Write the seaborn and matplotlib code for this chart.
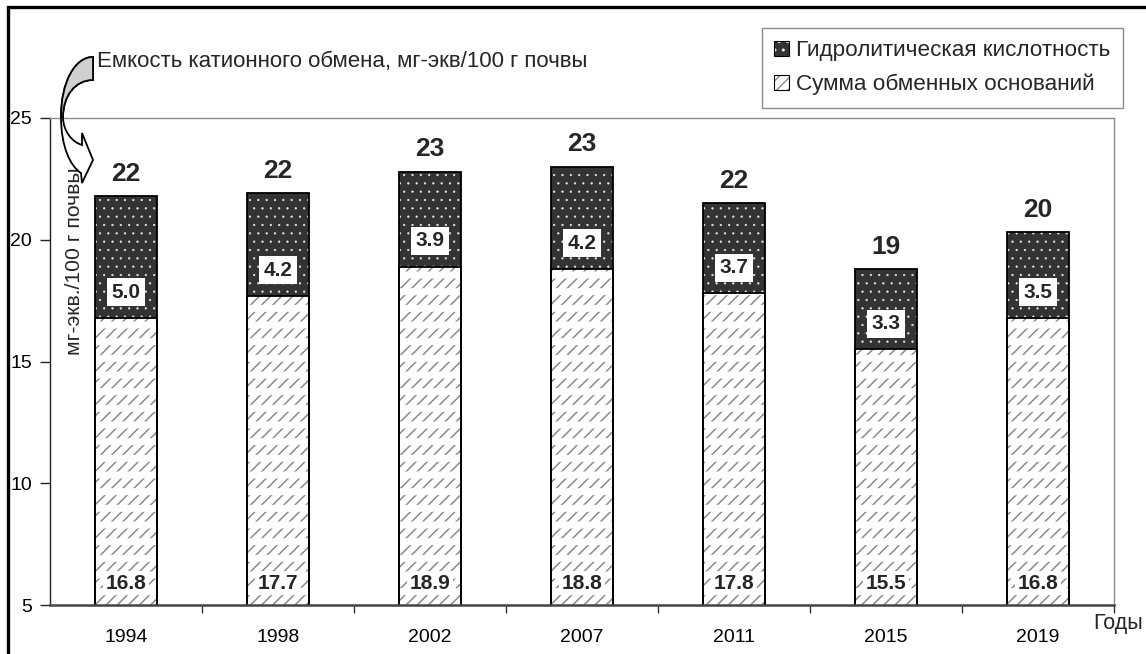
import matplotlib
matplotlib.use("Agg")
import matplotlib.pyplot as plt
import seaborn as sns
import pandas as pd
import numpy as np
from matplotlib.patches import Rectangle, Patch, PathPatch
from matplotlib.path import Path
from matplotlib.colors import to_rgba

# Soil exchange properties by survey year
years = ["1994", "1998", "2002", "2007", "2011", "2015", "2019"]
base_sum = [16.8, 17.7, 18.9, 18.8, 17.8, 15.5, 16.8]      # сумма обменных оснований
hydro_acid = [5.0, 4.2, 3.9, 4.2, 3.7, 3.3, 3.5]          # гидролитическая кислотность
y_ticks = [5, 10, 15, 20, 25]

legend_labels = ["Гидролитическая кислотность", "Сумма обменных оснований"]
ylabel = "мг-экв./100 г почвы"
xlabel = "Годы"
cec_note = "Емкость катионного обмена, мг-экв/100 г почвы"

sns.set_theme(style="white")
plt.rcParams["font.family"] = ["Liberation Sans", "DejaVu Sans"]

df = pd.DataFrame({"year": years, "base": base_sum, "acid": hydro_acid})
df["cec"] = df["base"] + df["acid"]

W, H = 1146, 654
fig = plt.figure(figsize=(W / 100, H / 100), dpi=100)
fig.patch.set_facecolor("white")
ax = fig.add_axes([50 / W, 49 / H, 1064 / W, 487 / H])

DARK = "#333333"
BAR_W = 0.41


def set_hatch_color(p, c):
    if hasattr(p, "set_hatchcolor"):
        p.set_hatchcolor(c)
    else:
        p._hatch_color = to_rgba(c)


def set_hatch_lw(p, lw):
    if hasattr(p, "set_hatch_linewidth"):
        p.set_hatch_linewidth(lw)
    else:
        p._hatch_linewidth = lw


# total (CEC) bars first, base bars drawn over their lower part
sns.barplot(data=df, x="year", y="cec", color=DARK, width=BAR_W, saturation=1,
            errorbar=None, ax=ax, edgecolor="black", linewidth=0)
n = len(ax.patches)
sns.barplot(data=df, x="year", y="base", color="white", width=BAR_W, saturation=1,
            errorbar=None, ax=ax, edgecolor="black", linewidth=0)
acid_bars = ax.patches[:n]
base_bars = ax.patches[n:]

for p in acid_bars:
    p.set_hatch("..")
    set_hatch_color(p, "#e8e8e8")
    set_hatch_lw(p, 0.4)

for p in base_bars:
    p.set_hatch("///")
    set_hatch_color(p, "#8a8a8a")
    set_hatch_lw(p, 1.1)
    # white horizontal bands cut the diagonals into short dashes
    band = Rectangle((p.get_x(), p.get_y()), p.get_width(), p.get_height(),
                     fill=False, linewidth=0, hatch="-", zorder=p.get_zorder() + 0.1)
    ax.add_patch(band)
    set_hatch_color(band, "white")
    set_hatch_lw(band, 5.0)

# black outlines on top of the patterns
for p in list(acid_bars) + list(base_bars):
    ax.add_patch(Rectangle((p.get_x(), p.get_y()), p.get_width(), p.get_height(),
                           fill=False, edgecolor="black", linewidth=1.3,
                           zorder=p.get_zorder() + 0.2))

ax.set_ylim(5, 25)
ax.set_xlim(-0.5, len(years) - 0.5)
ax.set_yticks(y_ticks)
ax.set_xlabel("")
ax.set_ylabel("")

ax.tick_params(axis="y", which="major", left=True, length=7, width=1, color="#222222",
               labelsize=14, pad=6, labelcolor="black")
ax.tick_params(axis="x", which="major", bottom=False, length=0, labelsize=14, pad=17,
               labelcolor="black")
ax.set_xticks(np.arange(len(years)) + 0.5, minor=True)
ax.tick_params(axis="x", which="minor", bottom=True, length=6, width=1, color="#333333")

for side in ["top", "right"]:
    ax.spines[side].set_color("#8c8c8c")
    ax.spines[side].set_linewidth(1.0)
ax.spines["left"].set_color("#222222")
ax.spines["left"].set_linewidth(1.0)
ax.spines["bottom"].set_color("#444444")
ax.spines["bottom"].set_linewidth(1.8)

# value labels
acid_box = dict(boxstyle="square,pad=0.22", facecolor="white", edgecolor="none")
base_box = dict(boxstyle="square,pad=0.12", facecolor="white", edgecolor="none")
for i, (b, a, c) in enumerate(zip(df["base"], df["acid"], df["cec"])):
    ax.text(i, b + 1.05, f"{a:.1f}", ha="center", va="center", fontsize=15,
            fontweight="bold", bbox=acid_box, zorder=10)
    ax.text(i, 5.9, f"{b:.1f}", ha="center", va="center", fontsize=15,
            fontweight="bold", bbox=base_box, zorder=10)
    total = int(np.floor(c + 0.5 + 1e-9))
    ax.text(i, c + 0.42, f"{total}", ha="center", va="bottom", fontsize=19,
            fontweight="bold", zorder=10)

ax.text(25 / 1064, 0.705, ylabel, transform=ax.transAxes, rotation=90,
        ha="center", va="center", fontsize=15.2, zorder=10)

fig.text(1093 / W, 1 - 623 / H, xlabel, ha="left", va="center", fontsize=15.5)

fig.text(97 / W, 1 - 61 / H, cec_note, ha="left", va="center", fontsize=16)


# curved ribbon arrow from the note to the first total (pixel layout, y down)
def fig_path(points, codes):
    verts = [(x / W, 1 - y / H) for x, y in points]
    return Path(verts, codes)


M, C4, L, Z = Path.MOVETO, Path.CURVE4, Path.LINETO, Path.CLOSEPOLY
ribbon_pts = [(93, 57),
              (75, 57), (61, 82), (61, 117),
              (61, 146), (70, 166), (81, 173),
              (82, 183), (93, 160), (82, 133), (82, 145),
              (72, 142), (63, 131), (63, 117),
              (63, 96), (75, 80), (93, 80),
              (93, 57)]
ribbon_codes = [M, C4, C4, C4, C4, C4, C4, L, L, L, L, C4, C4, C4, C4, C4, C4, Z]
upper_pts = [(93, 57),
             (75, 57), (61, 82), (61, 117),
             (63, 117),
             (63, 96), (75, 80), (93, 80),
             (93, 57)]
upper_codes = [M, C4, C4, C4, L, C4, C4, C4, Z]
fig.add_artist(PathPatch(fig_path(ribbon_pts, ribbon_codes), transform=fig.transFigure,
                         facecolor="white", edgecolor="black", linewidth=1.3, zorder=20))
fig.add_artist(PathPatch(fig_path(upper_pts, upper_codes), transform=fig.transFigure,
                         facecolor="#d0d0d0", edgecolor="black", linewidth=1.3, zorder=21))

# legend
h_acid = Patch(facecolor=DARK, edgecolor="black", linewidth=0.8, hatch="..")
set_hatch_color(h_acid, "#e8e8e8")
h_base = Patch(facecolor="white", edgecolor="black", linewidth=0.8, hatch="///")
set_hatch_color(h_base, "#8a8a8a")
leg = fig.legend([h_acid, h_base], legend_labels, loc="upper right",
                 bbox_to_anchor=(1123 / W, 1 - 28 / H), fontsize=16.2,
                 frameon=True, fancybox=False, framealpha=1, edgecolor="#8c8c8c",
                 handlelength=0.65, handleheight=0.65, handletextpad=0.35,
                 labelspacing=0.55, borderpad=0.55, borderaxespad=0)
leg.get_frame().set_linewidth(1.0)

# outer frame
fig.add_artist(Rectangle((8 / W, -0.2), 1.5, 1.2 - 7 / H, transform=fig.transFigure,
                         fill=False, edgecolor="black", linewidth=2.4))

fig.savefig("out.png", dpi=100)
